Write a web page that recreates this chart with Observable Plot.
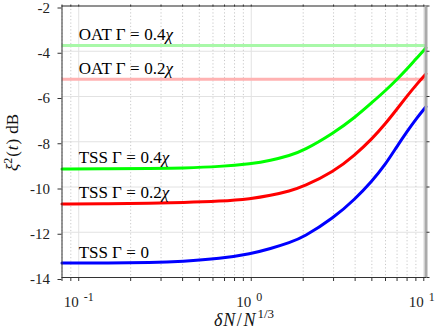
<!DOCTYPE html>
<html><head><meta charset="utf-8">
<script src="https://cdn.jsdelivr.net/npm/d3@7"></script>
<script src="https://cdn.jsdelivr.net/npm/@observablehq/plot@0.6"></script>
<style>body{margin:0;background:#fff}</style>
</head><body><div id="chart"></div>
<script>
// x values (δN / N^{1/3})
const xValues = [0.08, 0.15, 0.26, 0.4, 0.66, 1, 1.29, 1.68, 2, 3, 4, 5, 6, 7, 8, 9, 10.3];
// squeezing ξ²(t) in dB
const tss0  = [-13.36,-13.36,-13.34,-13.29,-13.17,-12.95,-12.73,-12.45,-12.23,-11.37,-10.53,-9.75,-9.0,-8.2,-7.55,-7.0,-6.45];
const tss02 = [-10.75,-10.74,-10.72,-10.69,-10.63,-10.52,-10.38,-10.17,-9.99,-9.33,-8.58,-7.88,-7.2,-6.55,-5.98,-5.5,-5.0];
const tss04 = [-9.2,-9.2,-9.19,-9.16,-9.1,-8.97,-8.83,-8.6,-8.4,-7.62,-6.92,-6.27,-5.74,-5.24,-4.78,-4.34,-3.85];
const tssLabels = ["TSS Γ = 0", "TSS Γ = 0.2χ", "TSS Γ = 0.4χ"];
const tssColors = ["#0000ff", "#ff0000", "#00ff00"];
const oatLevels = [-3.75, -5.24];
const oatLabels = ["OAT Γ = 0.4χ", "OAT Γ = 0.2χ"];
const oatColors = ["#a8f8a8", "#ffb2b2"];
// axes
const xDomain = [0.08, 10.3];
const yDomain = [-14, -2];
const xMajor = [0.1, 1, 10];
const xMinor = [0.08, 0.09, 0.2, 0.3, 0.4, 0.5, 0.6, 0.7, 0.8, 0.9, 2, 3, 4, 5, 6, 7, 8, 9];
const yTicks = [-14, -12, -10, -8, -6, -4, -2];
const labelX = 0.1;

const seriesList = [tss0, tss02, tss04];
const rows = seriesList.map(vals => vals.map((v, i) => ({x: xValues[i], y: v})));
const xAll = [...xMinor, ...xMajor].sort((a, b) => a - b);

const marks = [
  Plot.gridY(yTicks, {stroke: "#e2e2e2", strokeOpacity: 1}),
  Plot.gridX(xMinor, {stroke: "#c8c8c8", strokeOpacity: 1, strokeDasharray: "1.2,2.2"}),
  Plot.gridX(xMajor, {stroke: "#e2e2e2", strokeOpacity: 1}),
  ...oatLevels.map((lv, i) => Plot.ruleY([lv], {stroke: oatColors[i], strokeWidth: 3})),
  ...rows.map((r, i) => Plot.line(r, {x: "x", y: "y", stroke: tssColors[i], strokeWidth: 3, curve: "basis"})),
  Plot.frame({stroke: "#333", strokeWidth: 1}),
  Plot.ruleX([xDomain[1]], {stroke: "#aaa", strokeWidth: 3}),
  Plot.axisX({anchor: "bottom", ticks: xAll, tickSize: 4, tickFormat: () => "", label: null, stroke: "#333"}),
  Plot.axisX({anchor: "top", ticks: xAll, tickSize: 2, tickFormat: () => "", label: null, stroke: "#333"}),
  Plot.axisY({anchor: "left", ticks: yTicks, tickSize: 4, tickPadding: 8, tickFormat: d => String(d), label: null, dy: 2, fontSize: 15, fill: "#222", stroke: "#333"}),
  Plot.axisY({anchor: "right", ticks: yTicks, tickSize: 3, tickFormat: () => "", label: null, stroke: "#333"}),
  Plot.text(xMajor, {x: d => d, frameAnchor: "bottom", text: () => "10", textAnchor: "end", lineAnchor: "bottom", dy: 29, fontSize: 15, fill: "#222"}),
  Plot.text(xMajor, {x: d => d, frameAnchor: "bottom", text: d => String(Math.round(Math.log10(d))), textAnchor: "start", lineAnchor: "bottom", dx: 5, dy: 23, fontSize: 12, fill: "#222"}),
  Plot.text(tssLabels, {x: () => labelX, y: (d, i) => seriesList[i][0], text: d => d, textAnchor: "start", lineAnchor: "bottom", dy: -5.5, fontSize: 17, fill: "#000"}),
  Plot.text(oatLabels, {x: () => labelX, y: (d, i) => oatLevels[i], text: d => d, textAnchor: "start", lineAnchor: "bottom", dy: -5.5, fontSize: 17, fill: "#000"})
];

const chart = Plot.plot({
  width: 436, height: 331,
  marginLeft: 61.5, marginRight: 10.5, marginTop: 5.5, marginBottom: 54,
  x: {type: "log", domain: xDomain, axis: null},
  y: {domain: yDomain, axis: null},
  style: {fontFamily: "'Liberation Serif', serif", fontSize: "15px", background: "#fff", overflow: "visible"},
  marks
});

const svg = d3.select(chart);
// LaTeX-like spacing and italic χ in the curve labels
const allLabels = new Set([...tssLabels, ...oatLabels]);
svg.selectAll("text").each(function () {
  const t = this.textContent;
  if (this.childElementCount === 0 && allLabels.has(t)) {
    const m = t.match(/^(\S+) (Γ) (=) ([\d.]+)(χ?)$/);
    if (!m) return;
    const sel = d3.select(this);
    sel.text("");
    sel.append("tspan").text(m[1]);
    sel.append("tspan").attr("dx", 4).text(m[2]);
    sel.append("tspan").attr("dx", 4.5).text(m[3]);
    sel.append("tspan").attr("dx", 4.5).text(m[4]);
    if (m[5]) sel.append("tspan").attr("font-style", "italic").text(m[5]);
  }
});
// y axis label ξ²(t) dB
const yl = svg.append("text")
  .attr("transform", "translate(17.5,142.5) rotate(-90)")
  .attr("text-anchor", "middle")
  .attr("font-size", 17).attr("fill", "#111");
yl.append("tspan").attr("font-style", "italic").text("ξ");
yl.append("tspan").attr("font-size", 12).attr("dy", -6).text("2");
yl.append("tspan").attr("dy", 6).attr("dx", 1).text("(");
yl.append("tspan").attr("font-style", "italic").attr("dx", 1).text("t");
yl.append("tspan").attr("dx", 1).text(")");
yl.append("tspan").attr("dx", 5).text("dB");
// x axis label δN/N^{1/3}
const xl = svg.append("text")
  .attr("x", 244).attr("y", 326)
  .attr("text-anchor", "middle")
  .attr("font-size", 18).attr("fill", "#111");
xl.append("tspan").attr("font-style", "italic").text("δ");
xl.append("tspan").attr("font-style", "italic").attr("dx", 1).text("N");
xl.append("tspan").attr("dx", 1.5).text("/");
xl.append("tspan").attr("font-style", "italic").attr("dx", 1.5).text("N");
xl.append("tspan").attr("font-size", 13).attr("dy", -8).attr("dx", 2).text("1/3");

document.getElementById("chart").appendChild(chart);
</script>
</body></html>
